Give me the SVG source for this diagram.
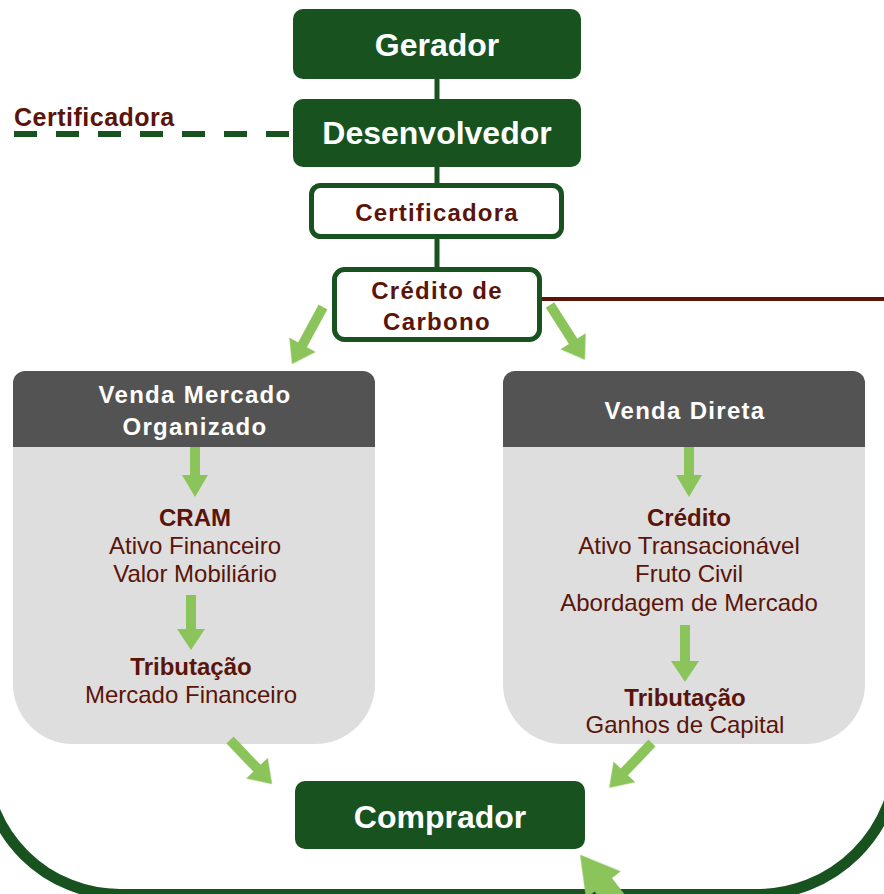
<svg xmlns="http://www.w3.org/2000/svg" width="884" height="894" viewBox="0 0 884 894">
<defs>
<style>
.dk{fill:#17521f}
.wt{fill:#ffffff;font-family:"Liberation Sans",Arial,sans-serif;font-weight:bold;text-anchor:middle}
.mr{fill:#5a1409;font-family:"Liberation Sans",Arial,sans-serif;text-anchor:middle;font-size:24px}
.b{font-weight:bold}
.ln{stroke:#17521f;stroke-width:5;fill:none}
.arr{fill:#8bc45a;filter:url(#soft)}
.hdr{fill:#535353}
.body{fill:#dedede}
.hw{fill:#ffffff;font-family:"Liberation Sans",Arial,sans-serif;font-weight:bold;font-size:24px;letter-spacing:1.3px;text-anchor:middle}
</style>
<filter id="soft" x="-20%" y="-20%" width="140%" height="140%"><feGaussianBlur stdDeviation="0.7"/></filter>
</defs>
<rect width="884" height="894" fill="#ffffff"/>
<path id="outline" d="M -15.5,-100 L -15.5,759 A 135.5,135.5 0 0 0 120,894.5 L 757,894.5 A 140.5,140.5 0 0 0 897.5,754 L 897.5,-100" fill="none" stroke="#17521f" stroke-width="11"/>

<g id="panel-left">
<path class="body" d="M13,440 L375,440 L375,684 A60,60 0 0 1 315,744 L73,744 A60,60 0 0 1 13,684 Z"/>
<path class="hdr" d="M13,383 A12,12 0 0 1 25,371 L363,371 A12,12 0 0 1 375,383 L375,447 L13,447 Z"/>
<text class="hw" x="195" y="403">Venda Mercado</text>
<text class="hw" x="195" y="435">Organizado</text>
<text class="mr b" x="195" y="526">CRAM</text>
<text class="mr" x="195" y="554">Ativo Financeiro</text>
<text class="mr" x="195" y="582">Valor Mobiliário</text>
<text class="mr b" x="191" y="675">Tributação</text>
<text class="mr" x="191" y="703">Mercado Financeiro</text>
</g>

<g id="panel-right">
<path class="body" d="M503,440 L865,440 L865,684 A60,60 0 0 1 805,744 L563,744 A60,60 0 0 1 503,684 Z"/>
<path class="hdr" d="M503,383 A12,12 0 0 1 515,371 L853,371 A12,12 0 0 1 865,383 L865,447 L503,447 Z"/>
<text class="hw" x="685" y="419">Venda Direta</text>
<text class="mr b" x="689" y="526">Crédito</text>
<text class="mr" x="689" y="554">Ativo Transacionável</text>
<text class="mr" x="689" y="582">Fruto Civil</text>
<text class="mr" x="689" y="611">Abordagem de Mercado</text>
<text class="mr b" x="685" y="706">Tributação</text>
<text class="mr" x="685" y="733">Ganhos de Capital</text>
</g>

<g id="connectors">
<line class="ln" x1="437" y1="79" x2="437" y2="99"/>
<line class="ln" x1="437" y1="166" x2="437" y2="185"/>
<line class="ln" x1="437" y1="237" x2="437" y2="269"/>
<line x1="14" y1="134" x2="293" y2="134" stroke="#17521f" stroke-width="6" stroke-dasharray="23 19"/>
<line x1="541" y1="299" x2="884" y2="299" stroke="#5a1409" stroke-width="4"/>
<path class="arr" d="M0,-5 L43,-5 L43,-15 L65,0 L43,15 L43,5 L0,5Z" transform="translate(323,307) rotate(118.5)"/>
<path class="arr" d="M0,-5 L43,-5 L43,-15 L65,0 L43,15 L43,5 L0,5Z" transform="translate(550,305) rotate(57.5)"/>
<path class="arr" d="M0,-5 L28,-5 L28,-13 L50,0 L28,13 L28,5 L0,5Z" transform="translate(195,447) rotate(90)"/>
<path class="arr" d="M0,-5 L34,-5 L34,-14 L55,0 L34,14 L34,5 L0,5Z" transform="translate(191,595) rotate(90)"/>
<path class="arr" d="M0,-5 L28,-5 L28,-13 L50,0 L28,13 L28,5 L0,5Z" transform="translate(689,447) rotate(90)"/>
<path class="arr" d="M0,-5 L36,-5 L36,-14 L57,0 L36,14 L36,5 L0,5Z" transform="translate(685,625) rotate(90)"/>
<path class="arr" d="M0,-5 L39,-5 L39,-15 L61,0 L39,15 L39,5 L0,5Z" transform="translate(230,740) rotate(46.3)"/>
<path class="arr" d="M0,-5 L40,-5 L40,-15 L62,0 L40,15 L40,5 L0,5Z" transform="translate(652,743) rotate(133.7)"/>
<path class="arr" d="M0,-11 L42,-11 L42,-22 L80,0 L42,22 L42,11 L0,11Z" transform="translate(629,918) rotate(-127.7)"/>
</g>

<g id="gerador">
<rect class="dk" x="293" y="9" width="288" height="70" rx="10"/>
<text class="wt" x="437" y="56" font-size="32">Gerador</text>
</g>

<g id="desenvolvedor">
<rect class="dk" x="293" y="99" width="288" height="68" rx="10"/>
<text class="wt" x="437" y="144" font-size="32">Desenvolvedor</text>
</g>

<g id="certificadora-label">
<text x="14" y="126" fill="#5a1409" font-family="Liberation Sans, Arial, sans-serif" font-weight="bold" font-size="25" letter-spacing="0.5">Certificadora</text>
</g>

<g id="certificadora">
<rect x="311.5" y="185.5" width="250" height="51" rx="9" fill="#ffffff" stroke="#17521f" stroke-width="5"/>
<text class="mr b" x="437" y="221" letter-spacing="1.2">Certificadora</text>
</g>

<g id="credito-carbono">
<rect x="334.5" y="269.5" width="205" height="70" rx="10" fill="#ffffff" stroke="#17521f" stroke-width="5"/>
<text class="mr b" x="437" y="299" letter-spacing="1.3">Crédito de</text>
<text class="mr b" x="437" y="330" letter-spacing="1.3">Carbono</text>
</g>

<g id="comprador">
<rect class="dk" x="295" y="781" width="290" height="68" rx="10"/>
<text class="wt" x="440" y="828" font-size="32">Comprador</text>
</g>
</svg>
